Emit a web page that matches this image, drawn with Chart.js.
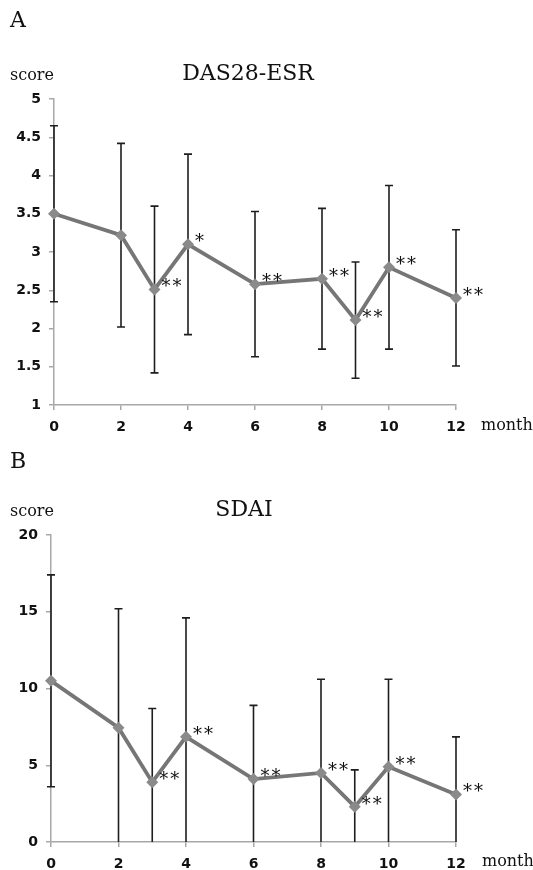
<!DOCTYPE html>
<html>
<head>
<meta charset="utf-8">
<script src="https://cdn.jsdelivr.net/npm/chart.js@4.4.0/dist/chart.umd.min.js"></script>
<style>
  body { margin: 0; background: #fff; }
  #page { position: relative; width: 533px; height: 870px; overflow: hidden; }
  canvas { position: absolute; left: 0; }
  .t { position: absolute; font-family: "DejaVu Serif", serif; line-height: 1; white-space: nowrap; color: #111; }
</style>
</head>
<body>
<div id="page">
  <canvas id="chartA" width="533" height="440" style="top:0"></canvas>
  <canvas id="chartB" width="533" height="430" style="top:440px"></canvas>

  <div class="t" style="left:10px; top:9px; font-size:22px">A</div>
  <div class="t" style="left:10px; top:67px; font-size:16px">score</div>
  <div class="t" style="left:248px; top:62px; font-size:22px; transform:translateX(-50%)">DAS28-ESR</div>
  <div class="t" style="left:481px; top:417px; font-size:16px">month</div>

  <div class="t" style="left:10px; top:450px; font-size:22px">B</div>
  <div class="t" style="left:10px; top:503px; font-size:16px">score</div>
  <div class="t" style="left:244px; top:498px; font-size:22px; transform:translateX(-50%)">SDAI</div>
  <div class="t" style="left:482px; top:853px; font-size:16px">month</div>
</div>

<script>
// months after start of treatment
const months = [0, 2, 3, 4, 6, 8, 9, 10, 12];
const monthTicks = [0, 2, 4, 6, 8, 10, 12];

// DAS28-ESR mean and SD
const dasMean = [3.5, 3.22, 2.51, 3.1, 2.58, 2.65, 2.11, 2.8, 2.4];
const dasSD = [1.15, 1.2, 1.09, 1.18, 0.95, 0.92, 0.76, 1.07, 0.89];
const dasMarks = ["", "", "**", "*", "**", "**", "**", "**", "**"];

// SDAI mean and SD
const sdaiMean = [10.5, 7.45, 3.9, 6.85, 4.1, 4.5, 2.3, 4.9, 3.1];
const sdaiSD = [6.9, 7.75, 4.8, 7.75, 4.8, 6.1, 2.4, 5.7, 3.75];
const sdaiMarks = ["", "", "**", "**", "**", "**", "**", "**", "**"];

const axisGrey = "#a8a8a8";
const tickFont = { family: "DejaVu Sans", weight: "bold", size: 14 };

// vertical SD bars, drawn under the line
const errorBars = {
  id: "errorBars",
  beforeDatasetsDraw(chart) {
    const { ctx, chartArea, scales: { x, y } } = chart;
    const ds = chart.data.datasets[0];
    ctx.save();
    ctx.beginPath();
    ctx.rect(chartArea.left - 10, 0, chartArea.width + 20, chartArea.bottom);
    ctx.clip();
    ctx.strokeStyle = "#1e1e1e";
    ctx.lineWidth = 1.6;
    ds.data.forEach((p, i) => {
      const px = x.getPixelForValue(p.x);
      const yTop = y.getPixelForValue(p.y + ds.sd[i]);
      const yBot = y.getPixelForValue(p.y - ds.sd[i]);
      ctx.beginPath();
      ctx.moveTo(px, yTop);
      ctx.lineTo(px, Math.min(yBot, chartArea.bottom));
      ctx.moveTo(px - 4, yTop);
      ctx.lineTo(px + 4, yTop);
      if (yBot < chartArea.bottom) {
        ctx.moveTo(px - 4, yBot);
        ctx.lineTo(px + 4, yBot);
      }
      ctx.stroke();
    });
    ctx.restore();
  },
  afterDatasetsDraw(chart) {
    const { ctx, scales: { x, y } } = chart;
    const ds = chart.data.datasets[0];
    ctx.save();
    ctx.fillStyle = "#111";
    ctx.font = '18px "DejaVu Serif"';
    ctx.letterSpacing = "2px";
    ctx.textAlign = "left";
    ctx.textBaseline = "alphabetic";
    ds.data.forEach((p, i) => {
      if (!ds.marks[i]) return;
      ctx.fillText(ds.marks[i], x.getPixelForValue(p.x) + 7, y.getPixelForValue(p.y) + 3);
    });
    ctx.restore();
  }
};

function makeChart(id, means, sds, marks, yMin, yMax, yStep, axisLeft, xHeight) {
  const ctx = document.getElementById(id).getContext("2d");
  return new Chart(ctx, {
    type: "line",
    data: {
      datasets: [{
        data: months.map((m, i) => ({ x: m, y: means[i] })),
        sd: sds,
        marks: marks,
        borderColor: "#767676",
        borderWidth: 3.8,
        pointStyle: "rectRot",
        pointRadius: 6,
        pointBackgroundColor: "#8a8a8a",
        pointBorderWidth: 0,
        tension: 0,
        clip: false
      }]
    },
    options: {
      responsive: false,
      animation: false,
      layout: { padding: { top: id === "chartA" ? 99 : 95, right: 77, left: 0, bottom: 0 } },
      plugins: { legend: { display: false }, tooltip: { enabled: false } },
      scales: {
        x: {
          type: "linear",
          min: 0,
          max: 12,
          afterBuildTicks: scale => { scale.ticks = monthTicks.map(v => ({ value: v })); },
          afterFit: scale => { scale.height = xHeight; },
          ticks: { font: tickFont, color: "#111", padding: 9, maxRotation: 0 },
          grid: { drawOnChartArea: false, tickLength: 5, color: axisGrey, lineWidth: 1.5 },
          border: { color: axisGrey, width: 1.5 }
        },
        y: {
          min: yMin,
          max: yMax,
          afterFit: scale => { scale.width = axisLeft; },
          ticks: { stepSize: yStep, font: tickFont, color: "#111", padding: 8, callback: v => String(v) },
          grid: { drawOnChartArea: false, tickLength: 5, color: axisGrey, lineWidth: 1.5 },
          border: { color: axisGrey, width: 1.5 }
        }
      }
    },
    plugins: [errorBars]
  });
}

makeChart("chartA", dasMean, dasSD, dasMarks, 1, 5, 0.5, 54, 35);
makeChart("chartB", sdaiMean, sdaiSD, sdaiMarks, 0, 20, 5, 51, 28);
</script>
</body>
</html>
